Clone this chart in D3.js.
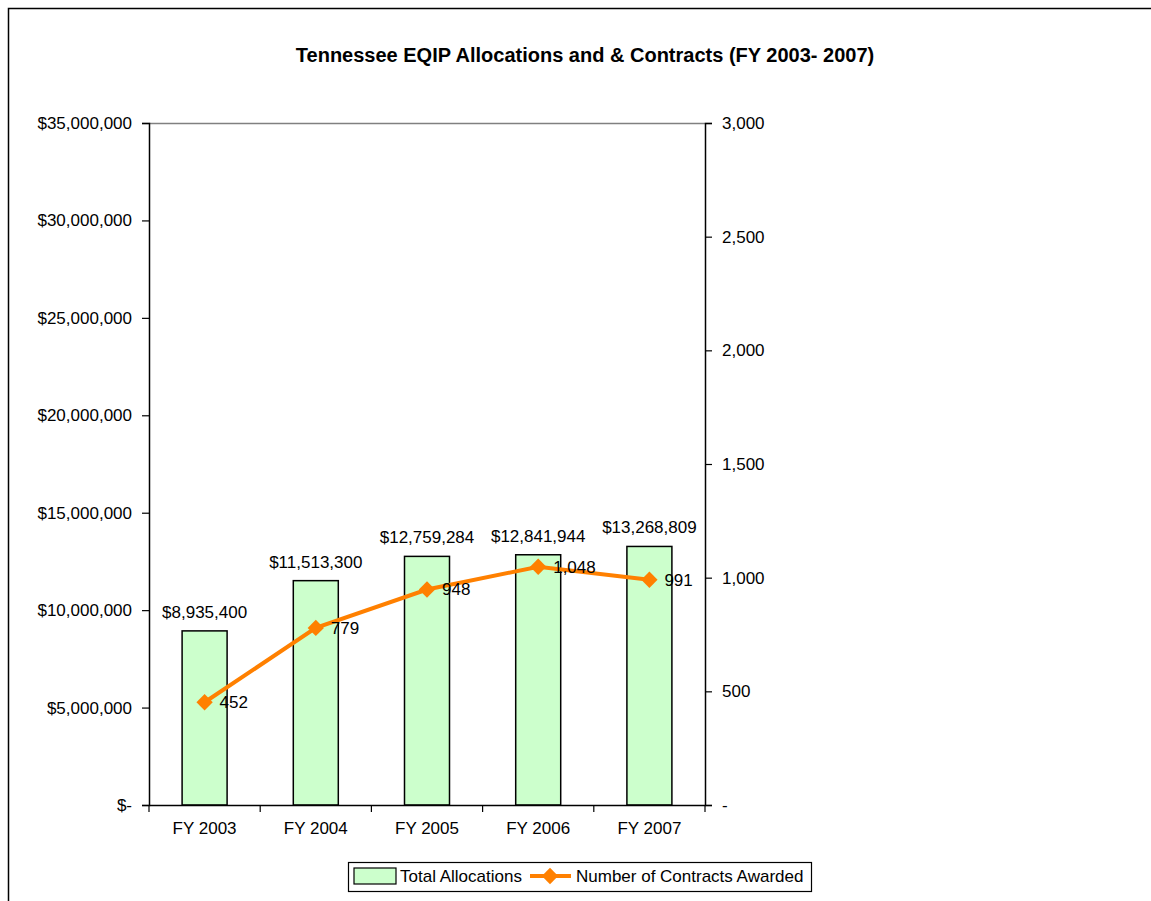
<!DOCTYPE html>
<html>
<head>
<meta charset="utf-8">
<script src="https://cdn.jsdelivr.net/npm/d3@7"></script>
<style>
  body { margin: 0; background: #fff; }
  svg text { font-family: "Liberation Sans", Arial, sans-serif; }
</style>
</head>
<body>
<svg width="1151" height="901"></svg>
<script>
// данные графика
const categories = ["FY 2003", "FY 2004", "FY 2005", "FY 2006", "FY 2007"];
const allocations = [8935400, 11513300, 12759284, 12841944, 13268809];
const contracts = [452, 779, 948, 1048, 991];
const leftTicks = [0, 5000000, 10000000, 15000000, 20000000, 25000000, 30000000, 35000000];
const rightTicks = [0, 500, 1000, 1500, 2000, 2500, 3000];

const svg = d3.select("svg");
const width = +svg.attr("width");
const height = +svg.attr("height");
const fs = 17;

// рамка вокруг всей диаграммы
svg.append("rect")
    .attr("x", 8.5).attr("y", 8.5)
    .attr("width", width + 20).attr("height", height + 20)
    .attr("fill", "none").attr("stroke", "#000").attr("stroke-width", 1.5);

svg.append("text")
    .attr("x", 585).attr("y", 62)
    .attr("text-anchor", "middle")
    .attr("font-size", 20).attr("font-weight", "bold")
    .text("Tennessee EQIP Allocations and & Contracts (FY 2003- 2007)");

const pLeft = 149, pRight = 705, pTop = 123, pBottom = 805;

const x = d3.scaleBand().domain(categories).range([pLeft, pRight]);
const yL = d3.scaleLinear().domain([0, 35000000]).range([pBottom, pTop]);
const yR = d3.scaleLinear().domain([0, 3000]).range([pBottom, pTop]);

// верхняя граница области построения
svg.append("line")
    .attr("x1", pLeft).attr("x2", pRight)
    .attr("y1", pTop + 0.5).attr("y2", pTop + 0.5)
    .attr("stroke", "#808080").attr("stroke-width", 1.5);

// столбцы
const barW = 45;
svg.selectAll(".bar").data(allocations).join("rect")
    .attr("class", "bar")
    .attr("x", (d, i) => x(categories[i]) + x.bandwidth() / 2 - barW / 2)
    .attr("y", d => yL(d))
    .attr("width", barW)
    .attr("height", d => pBottom - yL(d))
    .attr("fill", "#ccffcc")
    .attr("stroke", "#000").attr("stroke-width", 1.5);

const money = d3.format(",");
svg.selectAll(".barLabel").data(allocations).join("text")
    .attr("class", "barLabel")
    .attr("x", (d, i) => x(categories[i]) + x.bandwidth() / 2)
    .attr("y", d => yL(d) - 13)
    .attr("text-anchor", "middle")
    .attr("font-size", fs)
    .text(d => "$" + money(d));

// левая ось
const axisL = d3.axisLeft(yL).tickValues(leftTicks).tickSize(7).tickPadding(10)
    .tickFormat(d => d === 0 ? "$-" : "$" + money(d));
const gL = svg.append("g").attr("transform", `translate(${pLeft},0)`).call(axisL);

// правая ось
const axisR = d3.axisRight(yR).tickValues(rightTicks).tickSize(7).tickPadding(10)
    .tickFormat(d => d === 0 ? "-" : money(d));
const gR = svg.append("g").attr("transform", `translate(${pRight},0)`).call(axisR);

// нижняя ось
const axisB = d3.axisBottom(x).tickSize(0).tickPadding(17);
const gB = svg.append("g").attr("transform", `translate(0,${pBottom})`).call(axisB);
// засечки между категориями
svg.selectAll(".sep").data(d3.range(categories.length + 1)).join("line")
    .attr("class", "sep")
    .attr("x1", i => pLeft + i * x.bandwidth()).attr("x2", i => pLeft + i * x.bandwidth())
    .attr("y1", pBottom).attr("y2", pBottom + 7)
    .attr("stroke", "#000").attr("stroke-width", 1.2);

[gL, gR, gB].forEach(g => {
    g.select(".domain").attr("stroke", "#000").attr("stroke-width", 1.5);
    g.selectAll(".tick line").attr("stroke", "#000").attr("stroke-width", 1.2);
    g.selectAll("text").attr("font-size", fs).attr("fill", "#000")
        .attr("font-family", "'Liberation Sans', Arial, sans-serif");
});

// линия контрактов
const pts = contracts.map((d, i) => ({x: x(categories[i]) + x.bandwidth() / 2, y: yR(d), v: d}));
const line = d3.line().x(d => d.x).y(d => d.y);
svg.append("path")
    .attr("d", line(pts))
    .attr("fill", "none").attr("stroke", "#ff8000").attr("stroke-width", 4);

const diamond = d3.symbol().type(d3.symbolDiamond2).size(170);
svg.selectAll(".mark").data(pts).join("path")
    .attr("class", "mark")
    .attr("d", diamond)
    .attr("transform", d => `translate(${d.x},${d.y})`)
    .attr("fill", "#ff8000");

svg.selectAll(".lineLabel").data(pts).join("text")
    .attr("class", "lineLabel")
    .attr("x", d => d.x + 15)
    .attr("y", d => d.y + 6)
    .attr("font-size", fs)
    .text(d => money(d.v));

// легенда
const lg = svg.append("g");
lg.append("rect").attr("x", 348.5).attr("y", 862.5).attr("width", 463).attr("height", 29)
    .attr("fill", "#fff").attr("stroke", "#000").attr("stroke-width", 1.2);
lg.append("rect").attr("x", 354).attr("y", 868).attr("width", 42).attr("height", 16)
    .attr("fill", "#ccffcc").attr("stroke", "#000").attr("stroke-width", 1.2);
lg.append("text").attr("x", 400).attr("y", 882).attr("font-size", fs).text("Total Allocations");
lg.append("line").attr("x1", 530).attr("x2", 571).attr("y1", 876).attr("y2", 876)
    .attr("stroke", "#ff8000").attr("stroke-width", 4);
lg.append("path").attr("d", diamond).attr("transform", "translate(550,876)").attr("fill", "#ff8000");
lg.append("text").attr("x", 576).attr("y", 882).attr("font-size", fs).text("Number of Contracts Awarded");
</script>
</body>
</html>
